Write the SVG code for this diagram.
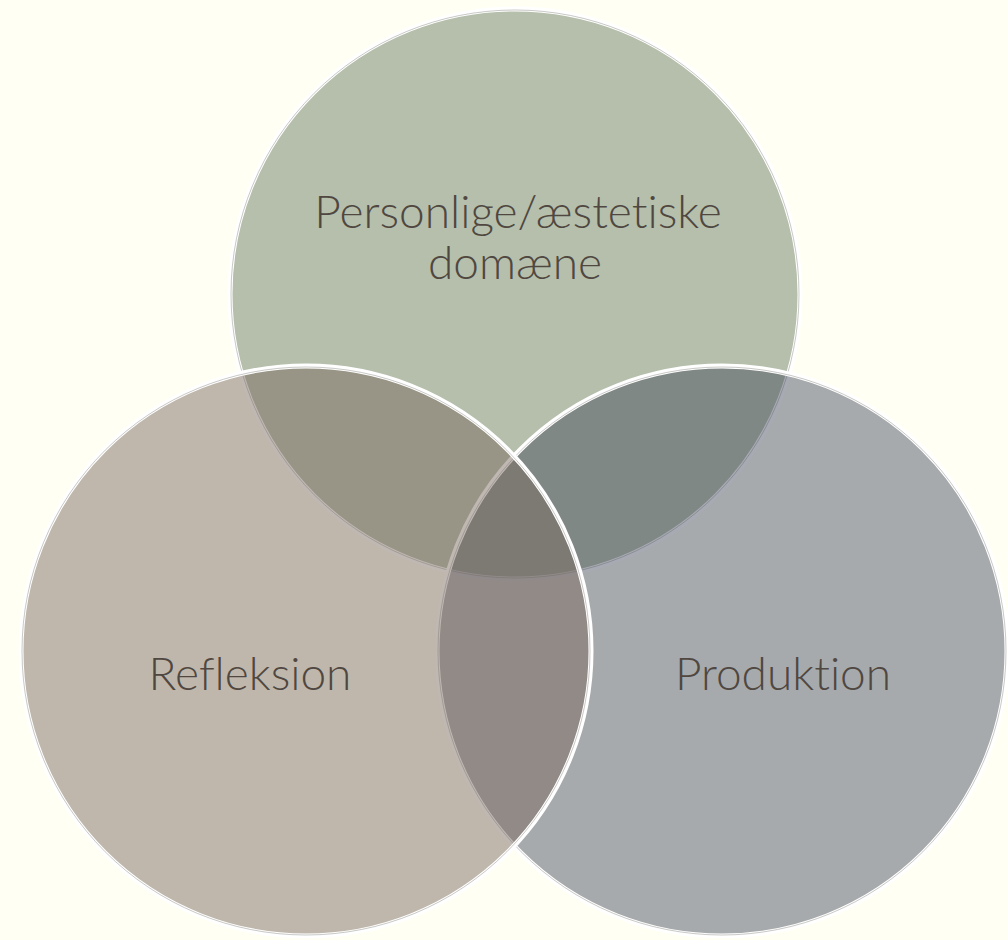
<svg xmlns="http://www.w3.org/2000/svg" width="1007" height="940" viewBox="0 0 1007 940">
  <style>
    .fill { stroke: #ffffff; stroke-width: 5; }
    .inner { fill: none; stroke: #8f8f8a; stroke-width: 0.9; stroke-opacity: 0.55; }
    .label { font-family: Lato, "Liberation Sans", sans-serif; font-weight: 300; font-size: 46px; fill: #4f4740; text-anchor: middle; font-variant-ligatures: none; }
  </style>
  <rect x="0" y="0" width="1007" height="940" fill="#fffff3"/>
  <g id="node-personlige">
    <circle class="fill" cx="515" cy="294" r="285" fill="#657a5d" fill-opacity="0.48"/>
    <circle class="inner" cx="515" cy="294" r="284"/>
  </g>
  <g id="node-produktion">
    <circle class="fill" cx="722" cy="651" r="285" fill="#484e5f" fill-opacity="0.48"/>
    <circle class="inner" cx="722" cy="651" r="284"/>
  </g>
  <g id="node-refleksion">
    <circle class="fill" cx="306" cy="651" r="285" fill="#7a695f" fill-opacity="0.48"/>
    <circle class="inner" cx="306" cy="651" r="284"/>
  </g>
  <g id="connectors"></g>
  <g id="labels">
    <text class="label" x="518" y="228">Personlige/æstetiske</text>
    <text class="label" x="515" y="279">domæne</text>
    <text class="label" x="250" y="690">Refleksion</text>
    <text class="label" x="783" y="690">Produktion</text>
  </g>
</svg>
